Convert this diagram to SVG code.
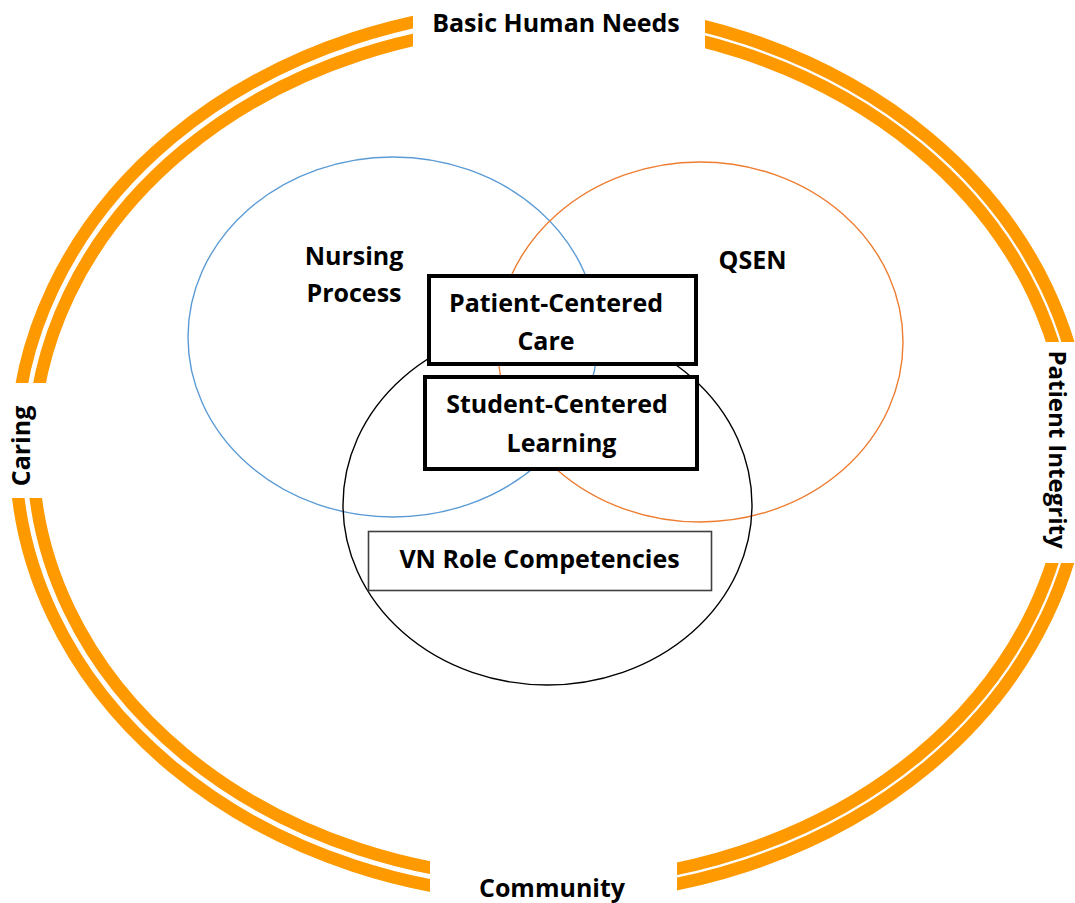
<svg xmlns="http://www.w3.org/2000/svg" width="1075" height="903" viewBox="0 0 1075 903">
  <style>
    .lbl { font-family: "Open Sans", Lato, "Liberation Sans", sans-serif; font-weight: bold; font-size: 25px; fill: #000; }
    .mid { text-anchor: middle; }
    .ring { fill: none; stroke: #FF9900; stroke-width: 12.5; }
    .venn { fill: none; stroke-width: 1.4; }
    .boxThick { fill: #fff; stroke: #000; stroke-width: 4; }
    .boxThin { fill: #fff; stroke: #404040; stroke-width: 1.6; }
  </style>
  <defs>
    <mask id="ringGaps" maskUnits="userSpaceOnUse" x="0" y="0" width="1075" height="903">
      <rect x="0" y="0" width="1075" height="903" fill="#fff"/>
      <rect x="413" y="0" width="292" height="80" fill="#000"/>
      <rect x="0" y="383" width="90" height="115" fill="#000"/>
      <rect x="985" y="342" width="90" height="221" fill="#000"/>
      <rect x="430" y="820" width="247" height="83" fill="#000"/>
    </mask>
  </defs>
  <rect x="0" y="0" width="1075" height="903" fill="#fff"/>

  <g id="outer-ring" mask="url(#ringGaps)">
    <path class="ring" d="M 550 7.25 A 534.75 444.75 0 0 0 550 896.75"/>
    <path class="ring" d="M 550 24.75 A 517.25 427.25 0 0 0 550 879.25"/>
    <path class="ring" d="M 550 7.25 A 534.75 444.75 0 0 1 550 896.75"/>
    <path class="ring" d="M 550 22.25 A 519.75 429.75 0 0 1 550 881.75"/>
  </g>

  <g id="ring-labels">
    <text class="lbl mid" x="556" y="32">Basic Human Needs</text>
    <text class="lbl mid" transform="translate(30,446) rotate(-90)">Caring</text>
    <text class="lbl mid" transform="translate(1049,449.5) rotate(90)" style="font-size:24px">Patient Integrity</text>
    <text class="lbl mid" x="552" y="897">Community</text>
  </g>

  <g id="nursing-process">
    <ellipse class="venn" cx="393" cy="337" rx="205" ry="180" stroke="#5B9BD5"/>
    <text class="lbl mid" x="354" y="265">Nursing</text>
    <text class="lbl mid" x="354" y="302">Process</text>
  </g>

  <g id="qsen">
    <ellipse class="venn" cx="700" cy="342" rx="203" ry="180" stroke="#ED7D31"/>
    <text class="lbl mid" x="752.5" y="269">QSEN</text>
  </g>

  <g id="vn-role">
    <ellipse class="venn" cx="547.5" cy="505" rx="204.5" ry="180" stroke="#000"/>
  </g>

  <g id="patient-centered-care">
    <rect class="boxThick" x="429" y="276" width="267" height="88"/>
    <text class="lbl mid" x="556" y="312">Patient-Centered</text>
    <text class="lbl mid" x="546" y="350">Care</text>
  </g>

  <g id="student-centered-learning">
    <rect class="boxThick" x="425" y="377" width="272" height="92"/>
    <text class="lbl mid" x="557" y="413">Student-Centered</text>
    <text class="lbl mid" x="561.5" y="452">Learning</text>
  </g>

  <g id="vn-role-competencies">
    <rect class="boxThin" x="368.5" y="531.5" width="343" height="59"/>
    <text class="lbl mid" x="539.5" y="568">VN Role Competencies</text>
  </g>

  <g id="connectors"></g>
</svg>
